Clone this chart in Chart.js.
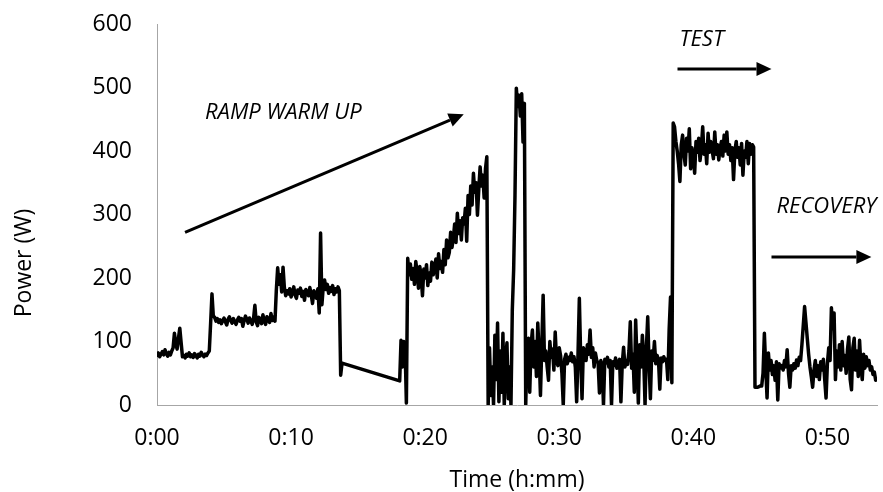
<!DOCTYPE html>
<html>
<head>
<meta charset="utf-8">
<script src="https://cdn.jsdelivr.net/npm/chart.js@4.4.1/dist/chart.umd.min.js"></script>
<style>
html,body{margin:0;padding:0;background:#fff}
#wrap{width:883px;height:492px}
</style>
</head>
<body>
<div id="wrap"><canvas id="c" width="883" height="492"></canvas></div>
<script>
// ---- data (power in W, one reading every SAMPLE_MIN minutes within each phase) ----
const SAMPLE_MIN = 0.1;

const warmUpStart = 0.0;
const warmUpPower = [
  78,82,76,80,84,79,87,81,77,83,79,85,90,
  113,96,88,105,121,98,76,
  78,74,80,77,82,76,79,75,81,78,74,80,77,83,79,76,80,78,82,85,
  129,175,140,
  138,132,136,130,134,128,133,137,131,126,135,139,133,129,136,131,127,134,138,132,
  136,124,133,140,135,129,137,133,127,136,157,131,125,138,134,128,142,133,127,139,
  135,130,144,133,138,132,
  181,216,190,205,178,217,185,172,
  180,175,183,170,178,186,173,168,181,176,184,171,179,165,182,177,172,185,174,160,
  180,176,168,183,
  145,271,158,186,197,182,190,176,185,179,188,174,183,178,186,180,
  47,66
];

const rampStart = 18.1;
const rampPower = [
  38,
  102,60,100,94,3,231,
  205,222,198,215,190,226,210,184,218,203,172,214,200,221,188,208,195,225,205,215,
  230,200,238,215,226,209,245,221,260,232,240,
  272,248,262,285,256,302,270,290,260,295,285,310,258,330,300,345,315,365,335,350,
  299,340,375,345,362,326,372,391
];

const sprintStart = 24.7;
const sprintPower = [
  0,90,15,60,0,110,40,129,5,85,20,113,0,70,98,10,60,0,150,
  213,330,499,470,488,455,490,414,475,0
];

const easyStart = 27.6;
const easyPower = [
  90,105,20,95,118,60,100,45,129,80,
  15,95,173,70,85,60,39,100,75,88,
  55,115,70,62,90,78,50,0,72,80,
  65,75,70,82,68,76,60,5,80,168,
  75,10,90,85,70,95,80,118,75,90,
  60,82,70,66,19,70,64,0,72,66,
  75,60,70,0,68,62,74,58,66,72,
  5,65,91,60,70,64,85,131,58,80,
  20,134,70,3,95,60,110,75,0,90,
  139,65,10,85,70,100,65,78,72,25,
  74,68,76,70,72,40,120,170,35
];

const testStart = 38.5;
const testPower = [
  444,438,415,400,380,352,410,425,395,378,
  420,400,435,372,405,390,365,415,398,420,
  385,405,438,395,410,380,428,398,415,402,
  388,430,395,410,386,405,415,392,425,400,
  430,395,410,385,405,355,400,415,390,405,
  378,412,362,400,390,415,380,412,395,410,
  406
];

const recoveryStart = 44.6;
const recoveryPower = [
  28,28,28,29,30,30,
  50,113,60,11,82,55,70,48,62,39,
  68,8,65,58,62,55,70,60,87,50,
  28,62,55,65,58,71,62,75,70,95,
  125,155,130,105,80,60,45,28,55,70,
  45,62,40,68,55,72,40,11,65,90,
  70,153,120,145,40,85,60,95,55,100,
  62,78,50,88,107,40,24,90,105,55,
  85,45,102,60,40,80,58,76,62,70,
  55,60,48,52,39
];

const xTickMinutes = [0,10,20,30,40,50];
const xTickLabels = ['0:00','0:10','0:20','0:30','0:40','0:50'];
const yTickValues = [0,100,200,300,400,500,600];

const xTitle = 'Time (h:mm)';
const yTitle = 'Power (W)';

// annotation texts and arrows (in data units)
const notes = [
  {text:'RAMP WARM UP', x:3.58, y:461},
  {text:'TEST', x:38.97, y:576},
  {text:'RECOVERY', x:46.2, y:312}
];
const arrows = [
  {x1:2.09, y1:272, x2:22.88, y2:458},
  {x1:38.82, y1:529, x2:45.83, y2:529},
  {x1:45.83, y1:233, x2:53.28, y2:233}
];

// ---- build points ----
const phases = [
  [warmUpStart, warmUpPower],
  [rampStart, rampPower],
  [sprintStart, sprintPower],
  [easyStart, easyPower],
  [testStart, testPower],
  [recoveryStart, recoveryPower]
];
const points = [];
phases.forEach(([start, vals]) => {
  vals.forEach((v, k) => points.push({x: +(start + k*SAMPLE_MIN).toFixed(2), y: v}));
});

const FONT = '"Open Sans", "Liberation Sans", sans-serif';

const notesPlugin = {
  id: 'notes',
  afterDatasetsDraw(chart) {
    const {ctx, scales:{x, y}, chartArea} = chart;
    ctx.save();
    ctx.fillStyle = '#000';
    ctx.strokeStyle = '#000';
    ctx.font = 'italic 22px ' + FONT;
    ctx.textAlign = 'left';
    ctx.textBaseline = 'middle';
    notes.forEach(n => ctx.fillText(n.text, x.getPixelForValue(n.x), y.getPixelForValue(n.y)));
    arrows.forEach(a => {
      const x1 = x.getPixelForValue(a.x1), y1 = y.getPixelForValue(a.y1);
      const x2 = x.getPixelForValue(a.x2), y2 = y.getPixelForValue(a.y2);
      const ang = Math.atan2(y2 - y1, x2 - x1);
      const c = Math.cos(ang), s = Math.sin(ang);
      const head = 15, half = 7;
      ctx.lineWidth = 3;
      ctx.lineCap = 'butt';
      ctx.beginPath();
      ctx.moveTo(x1, y1);
      ctx.lineTo(x2 - head*c, y2 - head*s);
      ctx.stroke();
      ctx.beginPath();
      ctx.moveTo(x2, y2);
      ctx.lineTo(x2 - head*c + half*s, y2 - head*s - half*c);
      ctx.lineTo(x2 - head*c - half*s, y2 - head*s + half*c);
      ctx.closePath();
      ctx.fill();
    });
    // axis titles
    ctx.font = '23px ' + FONT;
    ctx.textAlign = 'center';
    ctx.textBaseline = 'alphabetic';
    ctx.fillText(xTitle, (chartArea.left + chartArea.right)/2, 487);
    ctx.translate(31, 263);
    ctx.rotate(-Math.PI/2);
    ctx.textBaseline = 'alphabetic';
    ctx.fillText(yTitle, 0, 0);
    ctx.restore();
  }
};

new Chart(document.getElementById('c'), {
  type: 'line',
  data: {
    datasets: [{
      data: points,
      borderColor: '#000',
      borderWidth: 3.5,
      pointRadius: 0,
      tension: 0,
      borderJoinStyle: 'round',
      borderCapStyle: 'round',
      fill: false
    }]
  },
  options: {
    responsive: false,
    animation: false,
    devicePixelRatio: 1,
    layout: {padding: {left: 0, top: 24, right: 6, bottom: 0}},
    plugins: {legend: {display: false}, tooltip: {enabled: false}},
    scales: {
      x: {
        type: 'linear',
        min: 0,
        max: 53.7,
        grid: {display: false, drawTicks: false},
        border: {display: true, color: '#a6a6a6', width: 1},
        afterBuildTicks: s => { s.ticks = xTickMinutes.map(v => ({value: v})); },
        afterFit: s => { s.height = 87; s.paddingLeft = 0; s.paddingRight = 0; },
        ticks: {
          padding: 20,
          color: '#000',
          font: {family: FONT, size: 23},
          maxRotation: 0,
          callback: (v) => xTickLabels[xTickMinutes.indexOf(v)]
        }
      },
      y: {
        min: 0,
        max: 600,
        grid: {display: false, drawTicks: false},
        border: {display: true, color: '#a6a6a6', width: 1},
        afterBuildTicks: s => { s.ticks = yTickValues.map(v => ({value: v})); },
        afterFit: s => { s.width = 157; s.paddingTop = 0; s.paddingBottom = 0; },
        ticks: {
          padding: 25,
          color: '#000',
          font: {family: FONT, size: 23}
        }
      }
    }
  },
  plugins: [notesPlugin]
});
</script>
</body>
</html>
